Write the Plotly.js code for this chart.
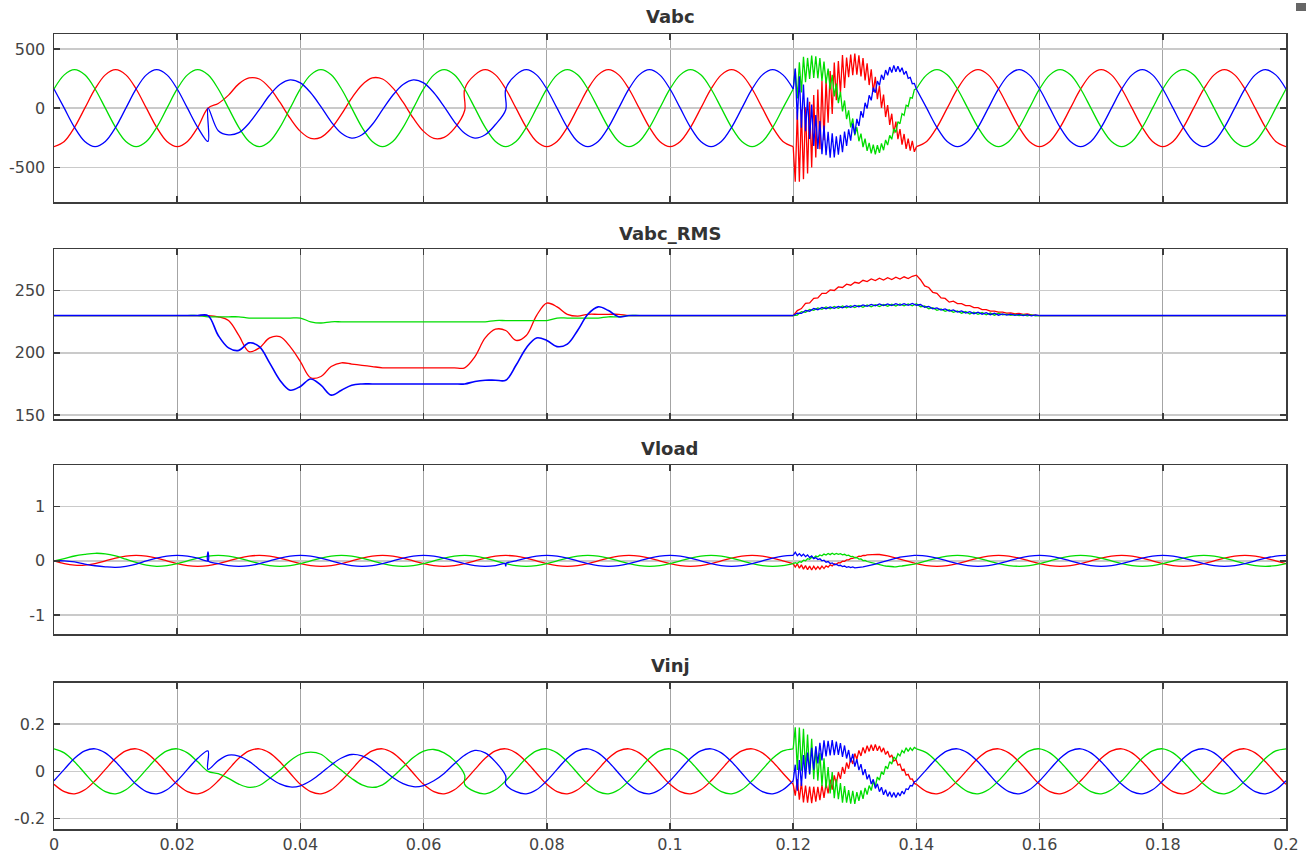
<!DOCTYPE html>
<html><head><meta charset="utf-8">
<script src="https://cdn.plot.ly/plotly-3.0.1.min.js"></script>
<style>html,body{margin:0;padding:0;background:#fff;}#chart{width:1314px;height:858px;}</style>
</head><body><div id="chart"></div>
<script>
// ---- time bases (seconds) ----
const COARSE_DT = 1/600;          // coarse sample step
const FINE_T0 = 0.12;             // start of the swell window
const FINE_DT = 1/3000;           // fine sample step for the waveforms in the swell window
const RMS_FINE_DT = 1/1500;       // fine sample step for the RMS traces, 0.12 .. 0.16

// ---- axis ticks ----
const xTickVals = [0,0.02,0.04,0.06,0.08,0.1,0.12,0.14,0.16,0.18,0.2];
const xTickText = ["0","0.02","0.04","0.06","0.08","0.1","0.12","0.14","0.16","0.18","0.2"];
const vabcTicks = [-500,0,500];      const vabcTickText = ["-500","0","500"];
const rmsTicks = [150,200,250];      const rmsTickText = ["150","200","250"];
const vloadTicks = [-1,0,1];         const vloadTickText = ["-1","0","1"];
const vinjTicks = [-0.2,0,0.2];      const vinjTickText = ["-0.2","0","0.2"];
const titles = ["Vabc","Vabc_RMS","Vload","Vinj"];

// ---- Vabc (coarse, k = 0..120) ----
const vabcR = [-325,-281,-162,0,162,281,325,281,162,0,-162,-281,
 -325,-281,-162,0,40,110,205,255,246,171,50,-85,
 -196,-255,-246,-171,-50,85,196,255,246,171,50,-85,
 -196,-255,-246,-171,162,281,325,281,162,0,-162,-281,
 -325,-281,-162,0,162,281,325,281,162,0,-162,-281,
 -325,-281,-162,0,162,281,325,281,162,0,-162,-281,
 -325,null,null,null,null,null,null,null,null,null,null,null,
 -325,-281,-162,0,162,281,325,281,162,0,-162,-281,
 -325,-281,-162,0,162,281,325,281,162,0,-162,-281,
 -325,-281,-162,0,162,281,325,281,162,0,-162,-281,
 -325];
const vabcG = [162,281,325,281,162,0,-162,-281,-325,-281,-162,0,
 162,281,325,281,162,0,-162,-281,-325,-281,-162,0,
 162,281,325,281,162,0,-162,-281,-325,-281,-162,0,
 162,281,325,281,162,0,-162,-281,-325,-281,-162,0,
 162,281,325,281,162,0,-162,-281,-325,-281,-162,0,
 162,281,325,281,162,0,-162,-281,-325,-281,-162,0,
 162,null,null,null,null,null,null,null,null,null,null,null,
 162,281,325,281,162,0,-162,-281,-325,-281,-162,0,
 162,281,325,281,162,0,-162,-281,-325,-281,-162,0,
 162,281,325,281,162,0,-162,-281,-325,-281,-162,0,
 162];
const vabcB = [162,0,-162,-281,-325,-281,-162,0,162,281,325,281,
 162,0,-162,0,-190,-225,-207,-127,-12,109,200,239,
 213,130,13,-115,-212,-253,-225,-138,-13,109,200,239,
 213,130,13,-115,-212,-253,-225,-138,162,281,325,281,
 162,0,-162,-281,-325,-281,-162,0,162,281,325,281,
 162,0,-162,-281,-325,-281,-162,0,162,281,325,281,
 162,null,null,null,null,null,null,null,null,null,null,null,
 162,0,-162,-281,-325,-281,-162,0,162,281,325,281,
 162,0,-162,-281,-325,-281,-162,0,162,281,325,281,
 162,0,-162,-281,-325,-281,-162,0,162,281,325,281,
 162];
// values reached just before an instantaneous step at sample k
const vabcRJumps = {40:[-20]};
const vabcBJumps = {15:[-281], 44:[-13]};

// ---- Vabc swell window (fine, j = 0..60) ----
const vabcRf = [-325,-620,-26,-620,-12,-599,8,-551,53,-500,110,-417,158,-346,231,-270,239,-123,314,-49,385,68,398,125,449,170,428,262,452,278,460,283,447,267,423,235,379,195,328,138,265,76,189,2,114,-75,26,-141,-47,-212,-113,-261,-176,-308,-218,-344,-258,-359,-276,-369,-325];
const vabcGf = [162,333,81,388,133,434,219,424,247,443,255,438,252,423,230,393,208,335,159,281,100,207,43,138,-28,65,-92,-18,-163,-87,-230,-161,-279,-215,-328,-258,-360,-293,-382,-308,-390,-313,-377,-298,-355,-268,-312,-229,-263,-175,-204,-114,-131,-46,-61,25,15,90,84,156,162];
const vabcBf = [162,334,-97,269,-165,200,-195,89,-259,30,-320,-58,-344,-108,-389,-147,-397,-199,-418,-213,-415,-238,-393,-224,-372,-197,-319,-178,-274,-128,-220,-91,-149,-25,-80,45,-3,108,66,174,130,229,192,281,239,322,278,347,300,361,307,355,306,341,284,312,252,260,206,209,162];

// ---- Vabc_RMS (coarse; 0.12..0.16 is in the fine arrays below) ----
const rmsR = [230,230,230,230,230,230,230,230,230,230,230,230,
 230,230,230,230,229,226,214,201,204,212,213,205,
 193,180,181,189,192,191,190,189,188,188,188,188,
 188,188,188,188,188,197,212,219,218,210,214,230,
 240,237,231,229.5,231,231,231,231,230,230,230,230,
 230,230,230,230,230,230,230,230,230,230,230,230,
 230,null,null,null,null,null,null,null,null,null,null,null,
 null,null,null,null,null,null,null,null,null,null,null,null,
 230,230,230,230,230,230,230,230,230,230,230,230,
 230,230,230,230,230,230,230,230,230,230,230,230,
 230];
const rmsG = [230,230,230,230,230,230,230,230,230,230,230,230,
 230,230,230,229,229,229,229,228,228,228,228,228,
 228,225,224,225,225,225,225,225,225,225,225,225,
 225,225,225,225,225,225,225,226,226,226,226,226,
 226,228,228,228,228,228,229,229,230,230,230,230,
 230,230,230,230,230,230,230,230,230,230,230,230,
 230,null,null,null,null,null,null,null,null,null,null,null,
 null,null,null,null,null,null,null,null,null,null,null,null,
 230,230,230,230,230,230,230,230,230,230,230,230,
 230,230,230,230,230,230,230,230,230,230,230,230,
 230];
const rmsB = [230,230,230,230,230,230,230,230,230,230,230,230,
 230,230,230,230,214,204,202,208,205,192,178,170,
 173,179,174,166,170,174,175,175,175,175,175,175,
 175,175,175,175,175,177,178,178,178,190,204,212,
 210,205,207,218,231,237,234,229,230,230,230,230,
 230,230,230,230,230,230,230,230,230,230,230,230,
 230,null,null,null,null,null,null,null,null,null,null,null,
 null,null,null,null,null,null,null,null,null,null,null,null,
 230,230,230,230,230,230,230,230,230,230,230,230,
 230,230,230,230,230,230,230,230,230,230,230,230,
 230];
const rmsRf = [230,234,235.6,239.8,240.2,243.8,244.2,247.8,247.8,250.6,250.2,253,252.6,255.2,254.4,256.8,256,258.4,257.4,259.4,258.2,260,258.6,260.4,259,260.8,259.4,261.2,259.8,261.6,262.5,258.8,253.8,252.6,248.6,247.8,244.2,243.8,240.8,241.6,239.6,239.6,238,238,236.4,236.4,234.8,234.8,233.6,233.6,232.8,232.8,232,232.1,231.4,231.8,231,231.3,230.6,230.6,230];
const rmsGf = [230,230.4,233.2,232.6,235,234.2,236.2,235,236.9,235.5,237.3,235.9,237.7,236.3,238,236.5,238.2,236.7,238.5,237.1,238.8,237.3,239,237.5,239.2,237.6,239.3,237.8,239.4,237.9,239.5,237,237.7,235.4,236.4,234.2,235.4,233.4,234.6,232.6,233.8,231.9,233.2,231.3,232.7,231,232.4,230.6,232,230.3,231.8,230.5,231.2,230.2,230.9,230,230.7,229.8,230.6,229.7,230];
const rmsBf = [230,231.9,231.7,234.1,233.5,235.7,234.7,236.5,235.4,237,235.8,237.4,236.2,237.8,236.6,238.2,237,238.6,237.4,239,237.8,239.3,238,239.4,238.1,239.5,238.2,239.6,238.3,239.7,238.3,238.9,236.7,237.4,235.4,236.2,234.4,235.4,233.6,234.6,232.8,233.8,232,233.1,231.5,232.7,231.1,232.3,230.7,231.9,230.3,231.3,230.4,231.1,230.2,230.9,230,230.7,229.8,230.5,230];

// ---- Vload (coarse) ----
const vloadR = [0,-0.05,-0.08,-0.08,-0.05,0,0.05,0.087,0.1,0.087,0.05,0,
 -0.05,-0.087,-0.1,-0.087,-0.05,0,0.05,0.087,0.1,0.087,0.05,0,
 -0.05,-0.087,-0.1,-0.087,-0.05,0,0.05,0.087,0.1,0.087,0.05,0,
 -0.05,-0.087,-0.1,-0.087,-0.05,0,0.05,0.087,0.1,0.087,0.05,0,
 -0.05,-0.087,-0.1,-0.087,-0.05,0,0.05,0.087,0.1,0.087,0.05,0,
 -0.05,-0.087,-0.1,-0.087,-0.05,0,0.05,0.087,0.1,0.087,0.05,0,
 -0.05,null,null,null,null,null,null,null,null,null,null,null,
 -0.05,-0.087,-0.1,-0.087,-0.05,0,0.05,0.087,0.1,0.087,0.05,0,
 -0.05,-0.087,-0.1,-0.087,-0.05,0,0.05,0.087,0.1,0.087,0.05,0,
 -0.05,-0.087,-0.1,-0.087,-0.05,0,0.05,0.087,0.1,0.087,0.05,0,
 -0.05];
const vloadG = [0,0.04,0.09,0.12,0.14,0.13,0.09,0.03,-0.03,-0.08,-0.1,-0.087,
 -0.05,0,0.05,0.087,0.1,0.087,0.05,0,-0.05,-0.087,-0.1,-0.087,
 -0.05,0,0.05,0.087,0.1,0.087,0.05,0,-0.05,-0.087,-0.1,-0.087,
 -0.05,0,0.05,0.087,0.1,0.087,0.05,0,-0.05,-0.087,-0.1,-0.087,
 -0.05,0,0.05,0.087,0.1,0.087,0.05,0,-0.05,-0.087,-0.1,-0.087,
 -0.05,0,0.05,0.087,0.1,0.087,0.05,0,-0.05,-0.087,-0.1,-0.087,
 -0.05,null,null,null,null,null,null,null,null,null,null,null,
 -0.05,0,0.05,0.087,0.1,0.087,0.05,0,-0.05,-0.087,-0.1,-0.087,
 -0.05,0,0.05,0.087,0.1,0.087,0.05,0,-0.05,-0.087,-0.1,-0.087,
 -0.05,0,0.05,0.087,0.1,0.087,0.05,0,-0.05,-0.087,-0.1,-0.087,
 -0.05];
const vloadB = [0,0,-0.02,-0.06,-0.09,-0.11,-0.12,-0.1,-0.06,0,0.05,0.087,
 0.1,0.087,0.05,0,-0.05,-0.087,-0.1,-0.087,-0.05,0,0.05,0.087,
 0.1,0.087,0.05,0,-0.05,-0.087,-0.1,-0.087,-0.05,0,0.05,0.087,
 0.1,0.087,0.05,0,-0.05,-0.087,-0.1,-0.087,-0.05,0,0.05,0.087,
 0.1,0.087,0.05,0,-0.05,-0.087,-0.1,-0.087,-0.05,0,0.05,0.087,
 0.1,0.087,0.05,0,-0.05,-0.087,-0.1,-0.087,-0.05,0,0.05,0.087,
 0.1,null,null,null,null,null,null,null,null,null,null,null,
 0.1,0.087,0.05,0,-0.05,-0.087,-0.1,-0.087,-0.05,0,0.05,0.087,
 0.1,0.087,0.05,0,-0.05,-0.087,-0.1,-0.087,-0.05,0,0.05,0.087,
 0.1,0.087,0.05,0,-0.05,-0.087,-0.1,-0.087,-0.05,0,0.05,0.087,
 0.1];
const vloadBJumps = {15:[0,0.17], 44:[-0.05,-0.1]};
const vloadRf = [-0.05,-0.114,-0.055,-0.135,-0.074,-0.152,-0.088,-0.163,-0.097,-0.169,-0.1,-0.159,-0.107,-0.153,-0.098,-0.142,-0.094,-0.115,-0.075,-0.094,-0.053,-0.063,-0.034,-0.036,-0.006,-0.008,0.018,0.02,0.042,0.044,0.065,0.066,0.085,0.084,0.102,0.099,0.11,0.114,0.117,0.119,0.12,0.119,0.117,0.114,0.11,0.104,0.093,0.082,0.072,0.062,0.052,0.042,0.032,0.021,0.011,0,-0.011,-0.021,-0.031,-0.041,-0.05];
const vloadGf = [-0.05,-0.033,-0.049,-0.014,-0.025,0.012,0.002,0.039,0.028,0.065,0.053,0.088,0.075,0.109,0.093,0.125,0.107,0.136,0.115,0.141,0.118,0.137,0.119,0.132,0.111,0.121,0.097,0.105,0.079,0.084,0.057,0.061,0.032,0.035,0.006,0.008,-0.012,-0.023,-0.034,-0.045,-0.055,-0.065,-0.074,-0.082,-0.089,-0.095,-0.101,-0.105,-0.108,-0.109,-0.11,-0.1,-0.098,-0.095,-0.091,-0.087,-0.081,-0.074,-0.067,-0.059,-0.05];
const vloadBf = [0.1,0.16,0.097,0.134,0.09,0.124,0.077,0.109,0.06,0.091,0.04,0.061,0.025,0.037,0.001,0.012,-0.025,-0.013,-0.049,-0.037,-0.072,-0.063,-0.088,-0.081,-0.105,-0.096,-0.118,-0.106,-0.125,-0.111,-0.128,-0.119,-0.117,-0.114,-0.11,-0.104,-0.097,-0.089,-0.08,-0.071,-0.06,-0.045,-0.034,-0.023,-0.012,0,0.011,0.021,0.031,0.041,0.05,0.059,0.067,0.074,0.081,0.087,0.091,0.095,0.098,0.0995,0.1];

// ---- Vinj (coarse) ----
const vinjR = [-0.055,-0.086,-0.095,-0.078,-0.04,0.008,0.055,0.086,0.095,0.078,0.04,-0.008,
 -0.055,-0.086,-0.095,-0.078,-0.04,0.008,0.055,0.086,0.095,0.078,0.04,-0.008,
 -0.055,-0.086,-0.095,-0.078,-0.04,0.008,0.055,0.086,0.095,0.078,0.04,-0.008,
 -0.055,-0.086,-0.095,-0.078,-0.04,0.008,0.055,0.086,0.095,0.078,0.04,-0.008,
 -0.055,-0.086,-0.095,-0.078,-0.04,0.008,0.055,0.086,0.095,0.078,0.04,-0.008,
 -0.055,-0.086,-0.095,-0.078,-0.04,0.008,0.055,0.086,0.095,0.078,0.04,-0.008,
 -0.055,null,null,null,null,null,null,null,null,null,null,null,
 -0.055,-0.086,-0.095,-0.078,-0.04,0.008,0.055,0.086,0.095,0.078,0.04,-0.008,
 -0.055,-0.086,-0.095,-0.078,-0.04,0.008,0.055,0.086,0.095,0.078,0.04,-0.008,
 -0.055,-0.086,-0.095,-0.078,-0.04,0.008,0.055,0.086,0.095,0.078,0.04,-0.008,
 -0.055];
const vinjG = [0.095,0.078,0.04,-0.008,-0.055,-0.086,-0.095,-0.078,-0.04,0.008,0.055,0.086,
 0.095,0.078,0.04,0,-0.01,-0.03,-0.054,-0.068,-0.06,-0.03,0.004,0.045,
 0.072,0.081,0.072,0.038,0.004,-0.03,-0.057,-0.068,-0.057,-0.023,0.018,0.058,
 0.085,0.092,0.078,0.045,-0.055,-0.086,-0.095,-0.078,-0.04,0.008,0.055,0.086,
 0.095,0.078,0.04,-0.008,-0.055,-0.086,-0.095,-0.078,-0.04,0.008,0.055,0.086,
 0.095,0.078,0.04,-0.008,-0.055,-0.086,-0.095,-0.078,-0.04,0.008,0.055,0.086,
 0.095,null,null,null,null,null,null,null,null,null,null,null,
 0.095,0.078,0.04,-0.008,-0.055,-0.086,-0.095,-0.078,-0.04,0.008,0.055,0.086,
 0.095,0.078,0.04,-0.008,-0.055,-0.086,-0.095,-0.078,-0.04,0.008,0.055,0.086,
 0.095,0.078,0.04,-0.008,-0.055,-0.086,-0.095,-0.078,-0.04,0.008,0.055,0.086,
 0.095];
const vinjB = [-0.04,0.008,0.055,0.086,0.095,0.078,0.04,-0.008,-0.055,-0.086,-0.095,-0.078,
 -0.04,0.008,0.055,0.008,0.045,0.068,0.064,0.042,0.008,-0.026,-0.053,-0.066,
 -0.061,-0.04,-0.008,0.027,0.056,0.071,0.065,0.043,0.009,-0.026,-0.052,-0.065,
 -0.06,-0.04,-0.009,0.032,0.068,0.088,0.078,0.04,-0.055,-0.086,-0.095,-0.078,
 -0.04,0.008,0.055,0.086,0.095,0.078,0.04,-0.008,-0.055,-0.086,-0.095,-0.078,
 -0.04,0.008,0.055,0.086,0.095,0.078,0.04,-0.008,-0.055,-0.086,-0.095,-0.078,
 -0.04,null,null,null,null,null,null,null,null,null,null,null,
 -0.04,0.008,0.055,0.086,0.095,0.078,0.04,-0.008,-0.055,-0.086,-0.095,-0.078,
 -0.04,0.008,0.055,0.086,0.095,0.078,0.04,-0.008,-0.055,-0.086,-0.095,-0.078,
 -0.04,0.008,0.055,0.086,0.095,0.078,0.04,-0.008,-0.055,-0.086,-0.095,-0.078,
 -0.04];
const vinjGJumps = {40:[-0.016]};
const vinjBJumps = {15:[0.086], 44:[-0.02]};
const vinjRf = [-0.055,-0.103,-0.033,-0.12,-0.046,-0.131,-0.06,-0.132,-0.064,-0.135,-0.065,-0.128,-0.066,-0.122,-0.058,-0.112,-0.051,-0.093,-0.035,-0.077,-0.017,-0.053,-0.003,-0.032,0.018,-0.011,0.037,0.011,0.057,0.031,0.075,0.051,0.088,0.065,0.101,0.076,0.108,0.084,0.112,0.087,0.113,0.087,0.107,0.081,0.099,0.071,0.085,0.059,0.069,0.043,0.051,0.026,0.03,0.005,0.009,-0.016,-0.013,-0.033,-0.032,-0.051,-0.055];
const vinjGf = [0.095,0.186,0.006,0.185,0.003,0.18,0.003,0.155,-0.014,0.137,-0.033,0.101,-0.04,0.078,-0.063,0.055,-0.071,0.018,-0.093,-0.003,-0.113,-0.034,-0.118,-0.05,-0.132,-0.062,-0.132,-0.079,-0.137,-0.082,-0.138,-0.088,-0.125,-0.081,-0.116,-0.07,-0.098,-0.06,-0.081,-0.042,-0.062,-0.024,-0.037,-0.001,-0.014,0.022,0.01,0.041,0.031,0.061,0.05,0.074,0.065,0.088,0.078,0.099,0.084,0.099,0.088,0.101,0.095];
const vinjBf = [-0.04,0.028,-0.082,0.048,-0.062,0.069,-0.031,0.079,-0.011,0.099,0.007,0.106,0.033,0.12,0.046,0.131,0.063,0.129,0.067,0.132,0.068,0.125,0.069,0.119,0.061,0.109,0.054,0.09,0.038,0.074,0.02,0.051,0.005,0.03,-0.016,0.009,-0.034,-0.014,-0.054,-0.034,-0.072,-0.053,-0.086,-0.067,-0.099,-0.078,-0.106,-0.086,-0.11,-0.089,-0.111,-0.09,-0.104,-0.084,-0.096,-0.074,-0.077,-0.06,-0.062,-0.044,-0.04];

// ---- drawing ----
const COL = {R:'#ff0000', G:'#00dd00', B:'#0000ff'};
const LW = 1.3;

function coarseTrace(vals, jumps, col, ax, w){
  const x=[], y=[];
  vals.forEach((v,k)=>{
    const t = k*COARSE_DT;
    if (jumps && jumps[k]) jumps[k].forEach(p=>{x.push(t); y.push(p);});
    x.push(t); y.push(v);
  });
  return {type:'scatter', mode:'lines', x, y, xaxis:'x'+ax, yaxis:'y'+ax,
    line:{color:col, width:w||LW, shape:'spline', smoothing:1}, hoverinfo:'skip', showlegend:false};
}
function fineTrace(vals, col, ax, dt, w){
  const x = vals.map((v,j)=>FINE_T0 + j*dt);
  return {type:'scatter', mode:'lines', x, y:vals, xaxis:'x'+ax, yaxis:'y'+ax,
    line:{color:col, width:w||LW}, hoverinfo:'skip', showlegend:false};
}

const data = [
  coarseTrace(vabcR, vabcRJumps, COL.R, ''), fineTrace(vabcRf, COL.R, '', FINE_DT),
  coarseTrace(vabcG, null, COL.G, ''), fineTrace(vabcGf, COL.G, '', FINE_DT),
  coarseTrace(vabcB, vabcBJumps, COL.B, ''), fineTrace(vabcBf, COL.B, '', FINE_DT),
  coarseTrace(rmsR, null, COL.R, '2'), fineTrace(rmsRf, COL.R, '2', RMS_FINE_DT),
  coarseTrace(rmsG, null, COL.G, '2'), fineTrace(rmsGf, COL.G, '2', RMS_FINE_DT),
  coarseTrace(rmsB, null, COL.B, '2', 1.6), fineTrace(rmsBf, COL.B, '2', RMS_FINE_DT),
  coarseTrace(vloadR, null, COL.R, '3'), fineTrace(vloadRf, COL.R, '3', FINE_DT),
  coarseTrace(vloadG, null, COL.G, '3'), fineTrace(vloadGf, COL.G, '3', FINE_DT),
  coarseTrace(vloadB, vloadBJumps, COL.B, '3'), fineTrace(vloadBf, COL.B, '3', FINE_DT),
  coarseTrace(vinjR, null, COL.R, '4'), fineTrace(vinjRf, COL.R, '4', FINE_DT),
  coarseTrace(vinjG, vinjGJumps, COL.G, '4'), fineTrace(vinjGf, COL.G, '4', FINE_DT),
  coarseTrace(vinjB, vinjBJumps, COL.B, '4'), fineTrace(vinjBf, COL.B, '4', FINE_DT)
];

const H = 858;
const frame = {showline:true, mirror:'ticks', linecolor:'#3c3c3c', linewidth:1.5,
  ticks:'inside', ticklen:6, tickwidth:1.5, tickcolor:'#3c3c3c',
  zeroline:false, showgrid:true, automargin:false, fixedrange:true};
// plot boxes in pixels (top, bottom)
const boxes = [[34,202],[249.3,419],[465,634.3],[682.7,829]];
const yRanges = [[-792,626],[146.8,283.3],[-1.356,1.77],[-0.2435,0.374]];
const yTicks = [[vabcTicks,vabcTickText],[rmsTicks,rmsTickText],[vloadTicks,vloadTickText],[vinjTicks,vinjTickText]];
const titleY = [16.7, 233.7, 448.7, 665.5];

const layout = {
  width:1314, height:858, margin:{l:54, r:28, t:0, b:0},
  paper_bgcolor:'#fff', plot_bgcolor:'#fff',
  font:{family:'DejaVu Sans', size:16, color:'#444'},
  showlegend:false, hovermode:false, annotations:[], shapes:[]
};
for (let i=0;i<4;i++){
  const s = i===0 ? '' : String(i+1);
  const dom = [1-boxes[i][1]/H, 1-boxes[i][0]/H];
  layout['xaxis'+s] = Object.assign({}, frame, {domain:[0,1], range:[0,0.2], anchor:'y'+s,
    tickvals:xTickVals, ticktext:xTickText, showticklabels:i===3,
    gridcolor:'#a4a4a4', gridwidth:1});
  layout['yaxis'+s] = Object.assign({}, frame, {domain:dom, range:yRanges[i], anchor:'x'+s,
    tickvals:yTicks[i][0], ticktext:yTicks[i][1], gridcolor:'#cacaca', gridwidth:1.5,
    ticklabelstandoff:4});
  layout.annotations.push({text:'<b>'+titles[i]+'</b>', xref:'paper', yref:'paper',
    x:0.5, y:1-titleY[i]/H, xanchor:'center', yanchor:'middle', showarrow:false,
    font:{family:'DejaVu Sans', size:18, color:'#333'}});
}
layout.shapes.push({type:'rect', xref:'paper', yref:'paper',
  x0:(1296-54)/1232, x1:(1306-54)/1232, y0:1-11/H, y1:1-3/H,
  fillcolor:'#666', line:{width:0}});

Plotly.newPlot('chart', data, layout, {staticPlot:true, displayModeBar:false});
</script></body></html>
